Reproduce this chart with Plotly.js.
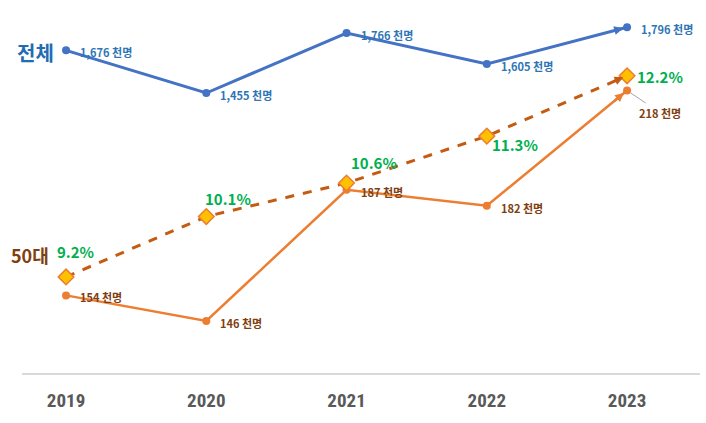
<!DOCTYPE html>
<html><head><meta charset="utf-8">
<script src="https://cdn.plot.ly/plotly-3.0.1.min.js"></script>
<style>html,body{margin:0;padding:0;background:#fff}#chart{width:706px;height:423px}</style>
</head><body><div id="chart"></div>
<script>
const years = [2019, 2020, 2021, 2022, 2023];
const yearLabels = ['2019', '2020', '2021', '2022', '2023'];
const totalThousands = [1676, 1455, 1766, 1605, 1796];
const fiftiesThousands = [154, 146, 187, 182, 218];
const fiftiesSharePct = [9.2, 10.1, 10.6, 11.3, 12.2];
const seriesNames = ['전체', '50대'];
const unit = ' 천명';

const KFONT = '"Noto Sans CJK KR", "Noto Sans", sans-serif';
const BLUE = '#4472C4', BLUE_TXT = '#2E75B6', ORANGE = '#ED7D31', BROWN = '#C55A11', BROWN_TXT = '#7F3F12', GREEN = '#00B050';

const traces = [
  {x: years, y: totalThousands, yaxis: 'y', mode: 'lines+markers', line: {color: BLUE, width: 3}, marker: {size: 8, color: BLUE}, hoverinfo: 'skip'},
  {x: years, y: fiftiesThousands, yaxis: 'y2', mode: 'lines+markers', line: {color: ORANGE, width: 2.5}, marker: {size: 8, color: ORANGE}, hoverinfo: 'skip'},
  {x: years, y: fiftiesSharePct, yaxis: 'y3', mode: 'lines+markers', line: {color: BROWN, width: 3, dash: 'dash'}, marker: {symbol: 'diamond', size: 12, color: '#FFC000', line: {color: ORANGE, width: 1.5}}, hoverinfo: 'skip'}
];

const ann = [];
const fmt = v => v.toLocaleString('en-US') + unit;
years.forEach((yr, i) => {
  ann.push({x: yr, y: totalThousands[i], xref: 'x', yref: 'y', text: '<b>' + fmt(totalThousands[i]) + '</b>', showarrow: false, xanchor: 'left', xshift: 12, yshift: -2, font: {family: KFONT, size: 11, color: BLUE_TXT}});
  if (i < years.length - 1) {
    ann.push({x: yr, y: fiftiesThousands[i], xref: 'x', yref: 'y2', text: '<b>' + fmt(fiftiesThousands[i]) + '</b>', showarrow: false, xanchor: 'left', xshift: 12, yshift: -2, font: {family: KFONT, size: 11, color: BROWN_TXT}});
  } else {
    ann.push({x: yr, y: fiftiesThousands[i], xref: 'x', yref: 'y2', text: '<b>' + fmt(fiftiesThousands[i]) + '</b>', showarrow: true, arrowhead: 0, arrowwidth: 1, arrowcolor: '#a6a6a6', ax: 33, ay: 22, standoff: 4, font: {family: KFONT, size: 11, color: BROWN_TXT}});
  }
});
const pctOff = [[9, -25], [22, -18], [27, -21], [28, 8], [33, 1]];
years.forEach((yr, i) => {
  ann.push({x: yr, y: fiftiesSharePct[i], xref: 'x', yref: 'y3', text: '<b>' + fiftiesSharePct[i].toFixed(1) + '%</b>', showarrow: false, xanchor: 'center', xshift: pctOff[i][0], yshift: -pctOff[i][1], font: {family: KFONT, size: 15, color: GREEN}});
});
// series name labels
ann.push({x: years[0], y: totalThousands[0], xref: 'x', yref: 'y', text: '<b>' + seriesNames[0] + '</b>', showarrow: false, xanchor: 'right', xshift: -10, yshift: -2, font: {family: KFONT, size: 20, color: '#1F6DB3'}});
ann.push({x: years[0], y: fiftiesSharePct[0], xref: 'x', yref: 'y3', text: '<b>' + seriesNames[1] + '</b>', showarrow: false, xanchor: 'right', xshift: -15, yshift: 22, font: {family: KFONT, size: 18, color: '#7F3F10'}});
// arrowheads at last segment ends
const n = years.length - 1;
[[totalThousands, 'y', BLUE, 3, 0.6], [fiftiesThousands, 'y2', ORANGE, 2.5, 0.7], [fiftiesSharePct, 'y3', BROWN, 2.5, 0.7]].forEach(([arr, yr, col, w, sz]) => {
  const f = 0.1;
  ann.push({x: years[n], y: arr[n], xref: 'x', yref: yr, axref: 'x', ayref: yr,
    ax: years[n] - f * (years[n] - years[n - 1]), ay: arr[n] - f * (arr[n] - arr[n - 1]),
    text: '', showarrow: true, arrowhead: 2, arrowsize: sz, arrowwidth: w, arrowcolor: col, standoff: 4});
});

const layout = {
  width: 706, height: 423,
  margin: {l: 22, r: 6, t: 0, b: 50},
  paper_bgcolor: '#fff', plot_bgcolor: '#fff',
  showlegend: false,
  xaxis: {range: [2018.686, 2023.52], tickvals: years, ticktext: yearLabels, showgrid: false, zeroline: false, showline: true, linecolor: '#d9d9d9', linewidth: 2, ticks: '', ticklabelstandoff: 9, tickfont: {family: '"Liberation Sans Narrow", "Roboto Condensed", "Open Sans", sans-serif', size: 19, color: '#595959', weight: 'bold'}},
  yaxis: {range: [4, 1937], visible: false, fixedrange: true},
  yaxis2: {range: [129.75, 246.3], overlaying: 'y', visible: false},
  yaxis3: {range: [7.767, 13.33], overlaying: 'y', visible: false},
  annotations: ann
};
Plotly.newPlot('chart', traces, layout, {staticPlot: true, displayModeBar: false});
</script>
</body></html>
